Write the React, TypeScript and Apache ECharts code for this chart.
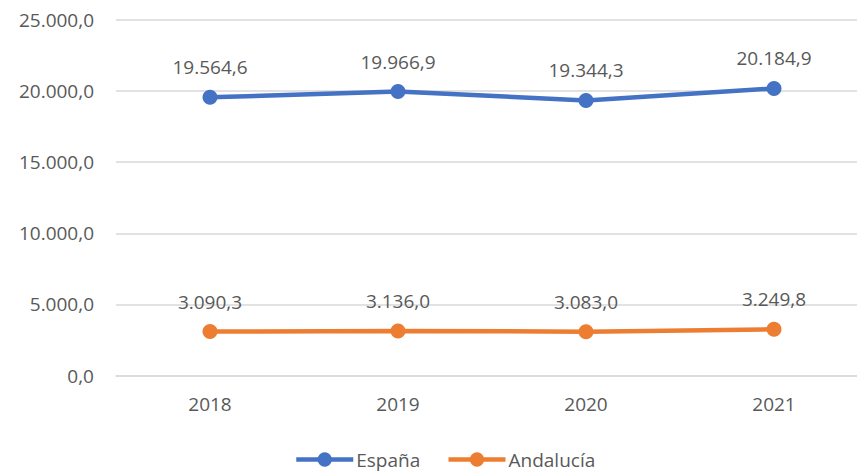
import React, { useEffect, useRef } from "react";
import * as echarts from "echarts";

const categories = ["2018", "2019", "2020", "2021"];
const espana = [19564.6, 19966.9, 19344.3, 20184.9];
const andalucia = [3090.3, 3136.0, 3083.0, 3249.8];
const seriesNames = ["España", "Andalucía"];

const fmt = (v: number, decimals = 1) => {
  const fixed = v.toFixed(decimals);
  const [int, dec] = fixed.split(".");
  const withSep = int.replace(/\B(?=(\d{3})+(?!\d))/g, ".");
  return dec !== undefined ? `${withSep},${dec}` : withSep;
};

const FONT = "'Open Sans', 'Noto Sans', sans-serif";
const TXT = "#595959";
const FS = 19;

export default function App() {
  const ref = useRef<HTMLDivElement>(null);
  useEffect(() => {
    if (!ref.current) return;
    const chart = echarts.init(ref.current, undefined, { renderer: "svg" });
    const mkSeries = (name: string, data: number[], color: string) => ({
      name,
      type: "line",
      data,
      symbol: "circle",
      symbolSize: 15,
      lineStyle: { width: 4.5, color },
      itemStyle: { color },
      label: {
        show: true,
        position: "top",
        distance: 13,
        color: TXT,
        fontSize: FS,
        fontFamily: FONT,
        formatter: (p: any) => fmt(p.value),
      },
    });
    chart.setOption({
      animation: false,
      textStyle: { fontFamily: FONT },
      grid: { left: 116, right: 0, top: 20, bottom: 99.5 },
      legend: {
        bottom: 1,
        left: 289,
        itemWidth: 57,
        itemHeight: 18,
        itemGap: 26,
        lineStyle: { width: 4.5 },
        textStyle: { color: TXT, fontSize: FS, fontFamily: FONT, padding: [0, 0, 0, -2] },
        data: seriesNames,
      },
      xAxis: {
        type: "category",
        data: categories,
        boundaryGap: true,
        axisLine: { show: true, lineStyle: { color: "#d9d9d9", width: 1.5 } },
        axisTick: { show: false },
        axisLabel: { color: TXT, fontSize: FS, fontFamily: FONT, margin: 19 },
      },
      yAxis: {
        type: "value",
        min: 0,
        max: 25000,
        interval: 5000,
        axisLine: { show: false },
        axisTick: { show: false },
        splitLine: { lineStyle: { color: "#d9d9d9", width: 1.5 } },
        axisLabel: {
          color: TXT,
          fontSize: FS,
          fontFamily: FONT,
          margin: 22,
          formatter: (v: number) => fmt(v),
        },
      },
      series: [
        mkSeries(seriesNames[0], espana, "#4472C4"),
        mkSeries(seriesNames[1], andalucia, "#ED7D31"),
      ],
    });
    return () => chart.dispose();
  }, []);
  return (
    <div style={{ position: "absolute", left: 0, top: 0, width: 857, height: 475, overflow: "hidden" }}>
      <div ref={ref} style={{ position: "absolute", left: 0, top: 0, width: 868, height: 475 }} />
    </div>
  );
}
